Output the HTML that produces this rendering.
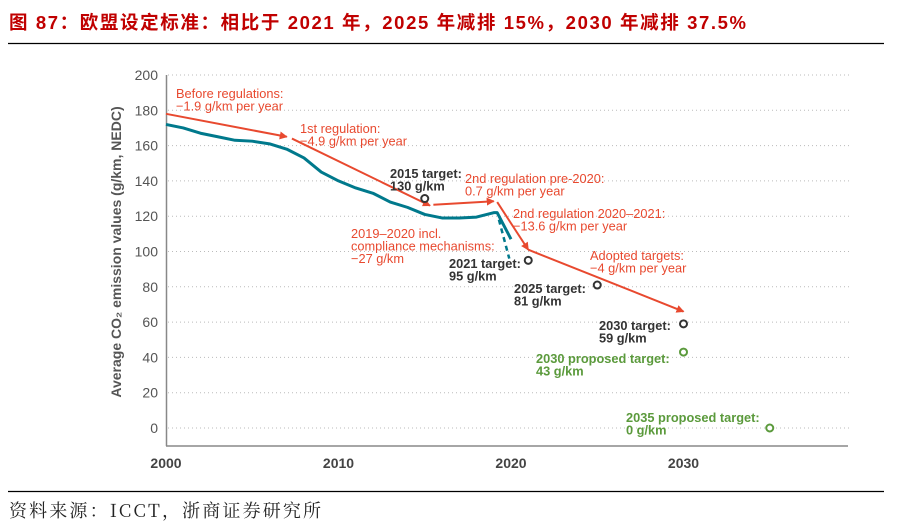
<!DOCTYPE html>
<html><head><meta charset="utf-8">
<style>
body{margin:0;background:#fff;width:922px;height:529px;overflow:hidden;}
svg{display:block;font-family:"Liberation Sans","Noto Sans CJK SC",sans-serif;}
</style></head>
<body>
<svg id="chart" width="922" height="529">
<text x="9" y="29" font-size="18.5" font-weight="bold" fill="#c00000" textLength="737" lengthAdjust="spacing">图 87：欧盟设定标准：相比于 2021 年，2025 年减排 15%，2030 年减排 37.5%</text>
<line x1="8" y1="43.5" x2="884" y2="43.5" stroke="#000" stroke-width="1.2"/>
<line x1="8" y1="491.5" x2="884" y2="491.5" stroke="#000" stroke-width="1.2"/>
<text x="9" y="517" font-size="18" fill="#222" textLength="312" lengthAdjust="spacing" font-family="'Noto Serif CJK SC','Liberation Serif',serif">资料来源：ICCT，浙商证券研究所</text>
<g id="grid"></g>
<g id="axes"></g>
<g id="marks"></g>
<g id="notes" font-size="12.8"></g>
</svg>
<script>
const yTicks=[0,20,40,60,80,100,120,140,160,180,200];
const xTicks=[2000,2010,2020,2030];
const avgYears=[2000,2001,2002,2003,2004,2005,2006,2007,2008,2009,2010,2011,2012,2013,2014,2015,2016,2017,2018,2019,2019.2,2020];
const avgValues=[172,170,167,165,163,162.5,161,158,153,145,140,136,133,128,125,121,119,119,119.5,122,122,107];
const dashYears=[2019.3,2019.9];
const dashValues=[118,96];
const trendYears=[[2000,2007],[2007.3,2015.3],[2015.5,2019],[2019.2,2021],[2021,2030]];
const trendValues=[[178,165],[164,126],[126.5,128.5],[128,101],[101,66]];
const targetYears=[2015,2021,2025,2030];
const targetValues=[130,95,81,59];
const proposedYears=[2030,2035];
const proposedValues=[43,0];

const X=y=>166+(y-2000)*17.25;
const Y=v=>428-v*1.765;
const NS="http://www.w3.org/2000/svg";
function el(tag,attrs,parent,text){const e=document.createElementNS(NS,tag);for(const k in attrs)e.setAttribute(k,attrs[k]);if(text!==undefined)e.textContent=text;parent.appendChild(e);return e;}
const grid=document.getElementById('grid'),axes=document.getElementById('axes'),marks=document.getElementById('marks'),notes=document.getElementById('notes');
yTicks.forEach(t=>{
 const l=el('line',{x1:168,x2:850,y1:Y(t),y2:Y(t),stroke:'#bbb','stroke-width':1,'stroke-dasharray':'1 3'},grid);
 
 
 const tx=el('text',{x:158,y:Y(t)+5,'text-anchor':'end','font-size':14,fill:'#555'},axes,t);
 
 
});
xTicks.forEach(t=>{
 const tx=el('text',{x:X(t),y:468,'text-anchor':'middle','font-size':14,'font-weight':'bold',fill:'#444'},axes,t);
 
 
});
let a=el('line',{x1:166.5,y1:75,x2:166.5,y2:446,stroke:'#888','stroke-width':1.5},axes);


a=el('line',{x1:166,y1:446,x2:848,y2:446,stroke:'#888','stroke-width':1.5},axes);


a=el('text',{x:0,y:0,transform:'translate(121,252) rotate(-90)','text-anchor':'middle','font-size':14,'font-weight':'bold',fill:'#555'},axes,'Average CO₂ emission values (g/km, NEDC)');



const defs=el('defs',{},marks);
const m=el('marker',{id:'ah',markerWidth:8,markerHeight:8,refX:7,refY:4,orient:'auto',markerUnits:'userSpaceOnUse'},defs);
el('path',{d:'M0,0 L8,4 L0,8 Z',fill:'#e8492f'},m);

let p=el('polyline',{points:avgYears.map((y,i)=>X(y)+','+Y(avgValues[i])).join(' '),fill:'none',stroke:'#00798c','stroke-width':3,'stroke-linejoin':'round'},marks);


p=el('polyline',{points:dashYears.map((y,i)=>X(y)+','+Y(dashValues[i])).join(' '),fill:'none',stroke:'#00798c','stroke-width':2.5,'stroke-dasharray':'5 4'},marks);


trendYears.forEach((ys,i)=>{
 const l=el('line',{x1:X(ys[0]),y1:Y(trendValues[i][0]),x2:X(ys[1]),y2:Y(trendValues[i][1]),stroke:'#e8492f','stroke-width':2,'marker-end':'url(#ah)'},marks);
 
 
});
targetYears.forEach((y,i)=>{
 const c=el('circle',{cx:X(y),cy:Y(targetValues[i]),r:3.5,fill:'#fff',stroke:'#333','stroke-width':2},marks);
 
 
});
proposedYears.forEach((y,i)=>{
 const c=el('circle',{cx:X(y),cy:Y(proposedValues[i]),r:3.5,fill:'#fff',stroke:'#5b9a3c','stroke-width':2},marks);
 
 
});
const labels=[
 [176,98,'#e8492f','normal',['Before regulations:','−1.9 g/km per year'],'note-before-regulations'],
 [300,133,'#e8492f','normal',['1st regulation:','−4.9 g/km per year'],'note-1st-regulation'],
 [390,178,'#333','bold',['2015 target:','130 g/km'],'label-2015-target'],
 [465,183,'#e8492f','normal',['2nd regulation pre-2020:','0.7 g/km per year'],'note-2nd-pre-2020'],
 [513,218,'#e8492f','normal',['2nd regulation 2020–2021:','−13.6 g/km per year'],'note-2nd-2020-2021'],
 [351,238,'#e8492f','normal',['2019–2020 incl.','compliance mechanisms:','−27 g/km'],'note-compliance'],
 [449,268,'#333','bold',['2021 target:','95 g/km'],'label-2021-target'],
 [590,260,'#e8492f','normal',['Adopted targets:','−4 g/km per year'],'note-adopted'],
 [514,293,'#333','bold',['2025 target:','81 g/km'],'label-2025-target'],
 [599,330,'#333','bold',['2030 target:','59 g/km'],'label-2030-target'],
 [536,363,'#5b9a3c','bold',['2030 proposed target:','43 g/km'],'label-2030-proposed'],
 [626,422,'#5b9a3c','bold',['2035 proposed target:','0 g/km'],'label-2035-proposed']
];
labels.forEach(L=>{
 const t=el('text',{x:L[0],y:L[1],fill:L[2],'font-weight':L[3]},notes);
 
 
 L[4].forEach((s,i)=>el('tspan',{x:L[0],dy:i?12.5:0},t,s));
});
</script>
</body></html>
